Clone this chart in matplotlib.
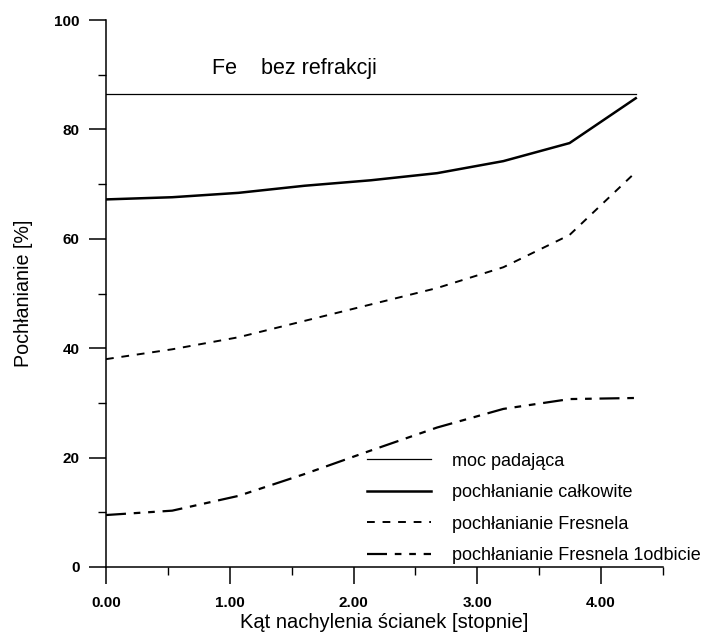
import matplotlib
matplotlib.use("Agg")
import matplotlib.pyplot as plt
from matplotlib.ticker import MultipleLocator, FormatStrFormatter

plt.rcParams["font.family"] = ["Liberation Sans", "DejaVu Sans"]

# dane
kat = [0.0, 0.535, 1.07, 1.605, 2.14, 2.675, 3.21, 3.745, 4.28]
moc_padajaca = [86.5, 86.5, 86.5, 86.5, 86.5, 86.5, 86.5, 86.5, 86.5]
pochl_calkowite = [67.2, 67.6, 68.4, 69.7, 70.7, 72.0, 74.2, 77.5, 85.7]
pochl_fresnel = [38.0, 39.8, 42.0, 45.0, 48.0, 51.0, 54.8, 60.7, 72.2]
pochl_fresnel_1odb = [9.5, 10.3, 13.0, 17.0, 21.3, 25.5, 28.9, 30.7, 30.9]

fig = plt.figure(figsize=(7.12, 6.32), dpi=100)
ax = fig.add_axes([106 / 712, 1 - 567 / 632, (663 - 106) / 712, (567 - 20) / 632])

ax.plot(kat, moc_padajaca, color="black", lw=0.9, label="moc padająca")
ax.plot(kat, pochl_calkowite, color="black", lw=1.8, label="pochłanianie całkowite")
ax.plot(kat, pochl_fresnel, color="black", lw=1.4, dashes=(4, 4),
        label="pochłanianie Fresnela")
ax.plot(kat, pochl_fresnel_1odb, color="black", lw=1.6,
        dashes=(9, 3.5, 3, 3.5, 3, 3.5), label="pochłanianie Fresnela 1odbicie")

ax.set_xlim(0, 4.5)
ax.set_ylim(0, 100)
ax.spines["top"].set_visible(False)
ax.spines["right"].set_visible(False)
ax.spines["left"].set_linewidth(1.1)
ax.spines["bottom"].set_linewidth(1.1)

ax.xaxis.set_major_locator(MultipleLocator(1))
ax.xaxis.set_minor_locator(MultipleLocator(0.5))
ax.xaxis.set_major_formatter(FormatStrFormatter("%.2f"))
ax.yaxis.set_major_locator(MultipleLocator(20))
ax.yaxis.set_minor_locator(MultipleLocator(10))

ax.tick_params(which="major", direction="out", length=12, width=1.1,
               labelsize=11, pad=7)
ax.tick_params(axis="x", which="major", pad=9)
ax.tick_params(which="minor", direction="out", length=6, width=1.0)
for lab in ax.get_xticklabels() + ax.get_yticklabels():
    lab.set_fontweight("bold")

ax.set_xlabel("Kąt nachylenia ścianek [stopnie]", fontsize=14.5, labelpad=2)
ax.set_ylabel("Pochłanianie [%]", fontsize=14.2, labelpad=15)

ax.text(0.86, 91.2, "Fe    bez refrakcji", fontsize=15.5, va="center", ha="left")

ax.legend(loc="upper left", bbox_to_anchor=(0.468, 0.209), frameon=False,
          fontsize=13, handlelength=3.55, handletextpad=1.16, labelspacing=0.8,
          borderpad=0, borderaxespad=0)

fig.savefig("out.png", dpi=100)
